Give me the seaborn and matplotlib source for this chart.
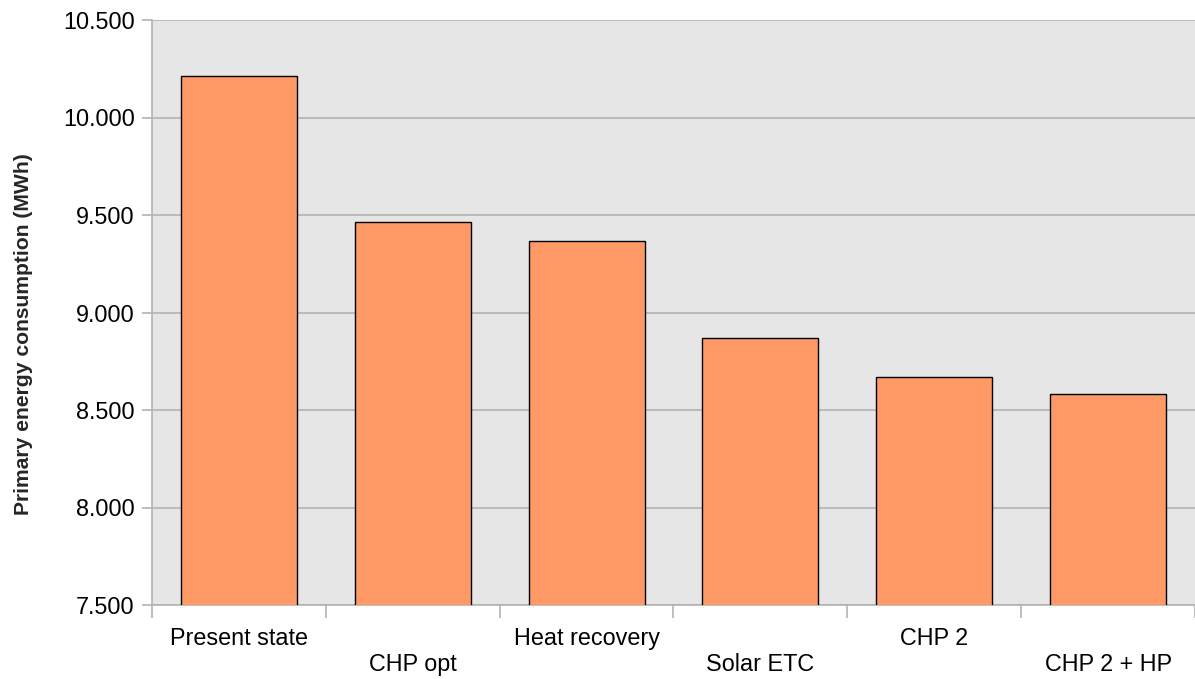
import matplotlib
matplotlib.use("Agg")
import matplotlib.pyplot as plt
from matplotlib.ticker import FuncFormatter, FixedLocator
import seaborn as sns
import pandas as pd

scenarios = ["Present state", "CHP opt", "Heat recovery", "Solar ETC", "CHP 2", "CHP 2 + HP"]
consumption_mwh = [10213, 9465, 9367, 8869, 8669, 8583]
y_ticks = [7500, 8000, 8500, 9000, 9500, 10000, 10500]

sns.set_theme(style="white")
plt.rcParams["font.family"] = ["Liberation Sans", "DejaVu Sans"]

df = pd.DataFrame({"scenario": scenarios, "value": consumption_mwh})

fig = plt.figure(figsize=(11.95, 6.79), dpi=100)
ax = fig.add_axes([152 / 1195, 1 - 605 / 679, 1 - 152 / 1195, 585 / 679])
ax.set_facecolor("#e6e6e6")

sns.barplot(data=df, x="scenario", y="value", color="#ff9966", width=0.667,
            edgecolor="black", linewidth=1.0, saturation=1, ax=ax, zorder=3)

ax.set_ylim(y_ticks[0], y_ticks[-1])
ax.set_xlim(-0.5, len(scenarios) - 0.5)
ax.yaxis.set_major_locator(FixedLocator(y_ticks))
ax.yaxis.set_major_formatter(FuncFormatter(lambda v, p: f"{int(v):,}".replace(",", ".")))
ax.grid(axis="y", color="#b3b3b3", linewidth=1.2, zorder=0)
ax.set_axisbelow(True)

# category boundaries as major ticks, names as minor (staggered) labels
ax.xaxis.set_major_locator(FixedLocator([i - 0.5 for i in range(len(scenarios) + 1)]))
ax.xaxis.set_major_formatter(FuncFormatter(lambda v, p: ""))
ax.xaxis.set_minor_locator(FixedLocator(list(range(len(scenarios)))))
ax.set_xticklabels([s if i % 2 == 0 else "\n" + s for i, s in enumerate(scenarios)],
                   minor=True, linespacing=1.15)
ax.tick_params(axis="x", which="major", length=9, width=1.2, color="#b3b3b3", bottom=True)
ax.tick_params(axis="x", which="minor", length=0, pad=16, labelsize=16.8, colors="black")
ax.tick_params(axis="y", length=7.5, width=1.2, color="#b3b3b3", pad=5,
               labelsize=16.8, left=True, labelcolor="black")

for side in ["top", "right"]:
    ax.spines[side].set_visible(False)
for side in ["left", "bottom"]:
    ax.spines[side].set_color("#b3b3b3")
    ax.spines[side].set_linewidth(1.2)

ax.set_xlabel("")
ax.set_ylabel("Primary energy consumption (MWh)", fontsize=15.2, fontweight="bold")
ax.yaxis.set_label_coords(-119 / 1043, 0.463)

fig.savefig("out.png", dpi=100)
